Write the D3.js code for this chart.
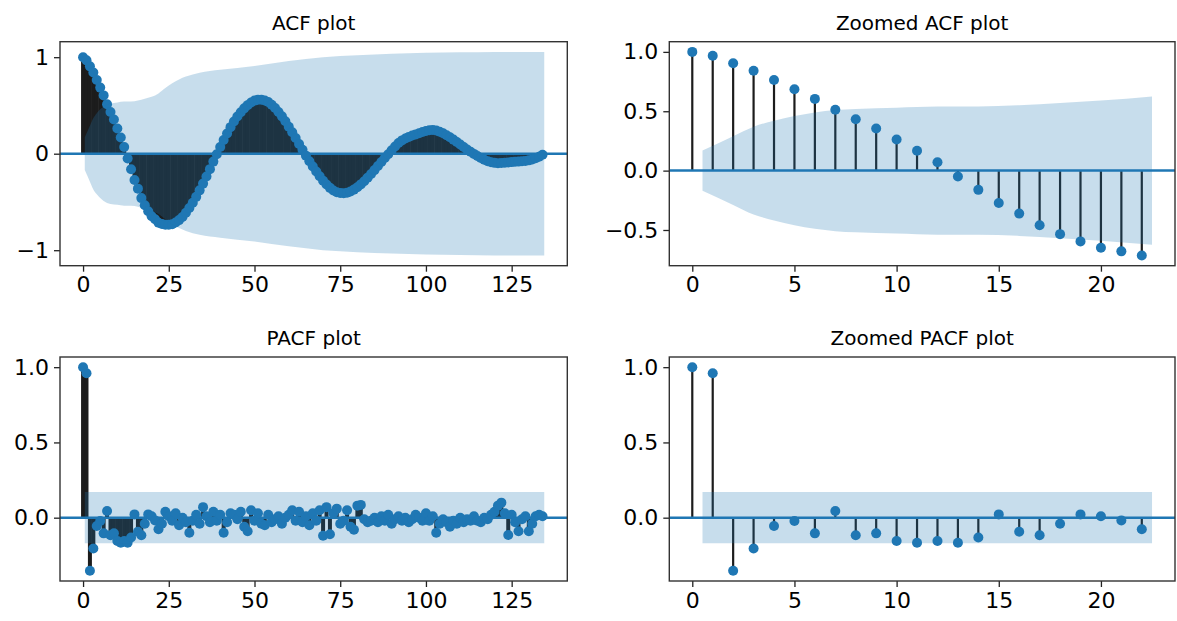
<!DOCTYPE html>
<html>
<head>
<meta charset="utf-8">
<script src="https://cdn.jsdelivr.net/npm/d3@7"></script>
<style>
  body { margin: 0; background: #fff; }
  text { font-family: "DejaVu Sans", sans-serif; fill: #000; }
</style>
</head>
<body>
<div id="chart"></div>
<script>
const Width = 1177;
const Height = 621;

// autocorrelation, lags 0..134
const acfValues = [
  1.000, 0.967, 0.905, 0.841, 0.763, 0.685, 0.604, 0.513, 0.432, 0.354,
  0.262, 0.167, 0.070, -0.050, -0.162, -0.273, -0.362, -0.460, -0.535, -0.596,
  -0.649, -0.680, -0.715, -0.728, -0.735, -0.737, -0.730, -0.712, -0.688, -0.655,
  -0.612, -0.563, -0.508, -0.447, -0.380, -0.310, -0.236, -0.160, -0.082, -0.005,
  0.070, 0.142, 0.210, 0.275, 0.333, 0.385, 0.430, 0.470, 0.503, 0.530,
  0.550, 0.560, 0.560, 0.552, 0.535, 0.508, 0.474, 0.433, 0.387, 0.336,
  0.280, 0.222, 0.162, 0.100, 0.040, -0.020, -0.078, -0.133, -0.185, -0.234,
  -0.280, -0.320, -0.354, -0.381, -0.399, -0.408, -0.410, -0.404, -0.391, -0.372,
  -0.347, -0.318, -0.285, -0.248, -0.210, -0.170, -0.128, -0.086, -0.045, -0.005,
  0.035, 0.075, 0.110, 0.138, 0.158, 0.174, 0.188, 0.200, 0.212, 0.224,
  0.235, 0.243, 0.246, 0.240, 0.228, 0.212, 0.192, 0.170, 0.146, 0.121,
  0.095, 0.069, 0.044, 0.020, -0.002, -0.024, -0.044, -0.062, -0.077, -0.088,
  -0.095, -0.098, -0.097, -0.094, -0.090, -0.087, -0.084, -0.082, -0.079, -0.075,
  -0.069, -0.060, -0.048, -0.032, -0.010
];

// partial autocorrelation, lags 0..134
const pacfValues = [
  1.000, 0.960, -0.353, -0.205, -0.055, -0.022, -0.104, 0.044, -0.117, -0.104,
  -0.155, -0.166, -0.155, -0.166, -0.132, 0.022, -0.093, -0.117, -0.040, 0.022,
  0.009, -0.018, -0.077, -0.040, 0.040, 0.010, -0.020, 0.030, -0.050, 0.000,
  -0.030, -0.100, -0.020, 0.020, -0.040, 0.070, 0.010, -0.030, 0.040, -0.020,
  0.020, -0.100, -0.030, 0.030, 0.020, -0.010, 0.040, -0.060, -0.090, 0.050,
  -0.020, 0.030, -0.040, -0.050, 0.020, -0.030, -0.010, 0.010, -0.040, 0.000,
  0.020, 0.050, -0.020, 0.040, -0.030, 0.010, -0.050, 0.030, -0.020, 0.050,
  -0.120, 0.070, -0.110, 0.030, 0.060, -0.040, -0.020, 0.050, -0.060, -0.080,
  0.080, 0.085, -0.010, -0.030, -0.020, 0.000, -0.030, 0.010, -0.020, 0.020,
  -0.040, -0.010, 0.010, -0.020, 0.000, -0.030, -0.010, 0.020, 0.000, -0.020,
  0.030, -0.020, 0.010, -0.100, -0.040, -0.010, -0.030, -0.060, -0.020, -0.040,
  0.000, -0.030, -0.010, -0.020, 0.010, -0.020, -0.030, 0.000, -0.010, 0.020,
  0.040, 0.080, 0.100, 0.030, -0.115, 0.020, -0.030, -0.090, -0.010, 0.010,
  -0.090, -0.040, 0.010, 0.020, 0.010
];

// 95% confidence band half-width of the ACF, read at some lags
const acfBandLags = [1, 2, 3, 4, 5, 6, 7, 8, 10, 12, 14, 16, 18, 20, 22, 24, 26, 28, 30, 34, 40, 50, 60, 70, 80, 90, 100, 110, 120, 134];
const acfBandHalf = [0.17, 0.29, 0.37, 0.42, 0.46, 0.49, 0.51, 0.52, 0.53, 0.54, 0.54, 0.55, 0.57, 0.59, 0.625, 0.68, 0.73, 0.77, 0.80, 0.84, 0.87, 0.91, 0.96, 1.0, 1.02, 1.035, 1.045, 1.05, 1.055, 1.055];
const pacfBandHalf = 0.17;

const fullTicks = [0, 25, 50, 75, 100, 125];
const zoomTicks = [0, 5, 10, 15, 20];
const fullMaxLag = 134;
const zoomMaxLag = 22;

const svg = d3.select("#chart").append("svg").attr("width", Width).attr("height", Height);

const panels = [
  { title: "ACF plot", left: 60, right: 567.3, top: 41.7, bottom: 265.7, values: acfValues, maxLag: fullMaxLag,
    band: "acf", xTicks: fullTicks, yTicks: [-1, 0, 1], yFmt: d3.format("d") },
  { title: "Zoomed ACF plot", left: 669.3, right: 1175, top: 41.7, bottom: 265.7, values: acfValues, maxLag: zoomMaxLag,
    band: "acf", xTicks: zoomTicks, yTicks: [-0.5, 0, 0.5, 1], yFmt: d3.format(".1f") },
  { title: "PACF plot", left: 60, right: 567.3, top: 357, bottom: 581, values: pacfValues, maxLag: fullMaxLag,
    band: "pacf", xTicks: fullTicks, yTicks: [0, 0.5, 1], yFmt: d3.format(".1f") },
  { title: "Zoomed PACF plot", left: 669.3, right: 1175, top: 357, bottom: 581, values: pacfValues, maxLag: zoomMaxLag,
    band: "pacf", xTicks: zoomTicks, yTicks: [0, 0.5, 1], yFmt: d3.format(".1f") }
];

const blue = "#1f77b4";

panels.forEach((p, i) => {
  const pts = p.values.slice(0, p.maxLag + 1).map((v, lag) => ({ lag, v }));

  // band points: first lag shifted -0.5, last lag shifted +0.5 (statsmodels style)
  let band;
  if (p.band === "acf") {
    band = acfBandLags.map((l, k) => ({ lag: l, h: acfBandHalf[k] })).filter(d => d.lag <= p.maxLag);
    if (band[band.length - 1].lag < p.maxLag) {
      const k = acfBandLags.findIndex(l => l > p.maxLag);
      const a = acfBandLags[k - 1], b = acfBandLags[k];
      const t = (p.maxLag - a) / (b - a);
      band.push({ lag: p.maxLag, h: acfBandHalf[k - 1] + t * (acfBandHalf[k] - acfBandHalf[k - 1]) });
    }
  } else {
    band = [{ lag: 1, h: pacfBandHalf }, { lag: p.maxLag, h: pacfBandHalf }];
  }
  band = band.map((d, k) => ({ x: k === 0 ? d.lag - 0.5 : (k === band.length - 1 ? d.lag + 0.5 : d.lag), h: d.h }));

  // data limits with 5% margins, like matplotlib
  const xMin = 0, xMax = p.maxLag + 0.5;
  const yMin = Math.min(d3.min(pts, d => d.v), -d3.max(band, d => d.h));
  const yMax = Math.max(d3.max(pts, d => d.v), d3.max(band, d => d.h));
  const xm = (xMax - xMin) * 0.05, ym = (yMax - yMin) * 0.05;

  const x = d3.scaleLinear().domain([xMin - xm, xMax + xm]).range([p.left, p.right]);
  const y = d3.scaleLinear().domain([yMin - ym, yMax + ym]).range([p.bottom, p.top]);

  const clipId = "clip" + i;
  svg.append("clipPath").attr("id", clipId).append("rect")
    .attr("x", p.left).attr("y", p.top).attr("width", p.right - p.left).attr("height", p.bottom - p.top);

  const g = svg.append("g").attr("clip-path", `url(#${clipId})`);

  // stems
  g.selectAll(".stem").data(pts).join("line")
    .attr("x1", d => x(d.lag)).attr("x2", d => x(d.lag))
    .attr("y1", y(0)).attr("y2", d => y(d.v))
    .attr("stroke", "#1c1c1c")
    .attr("stroke-width", p.maxLag > 50 ? 4 : 2.2);

  // zero line
  g.append("line")
    .attr("x1", p.left).attr("x2", p.right)
    .attr("y1", y(0)).attr("y2", y(0))
    .attr("stroke", blue).attr("stroke-width", 2.5);

  // markers
  g.selectAll(".dot").data(pts).join("circle")
    .attr("cx", d => x(d.lag)).attr("cy", d => y(d.v))
    .attr("r", 5).attr("fill", blue);

  // confidence band on top
  const area = d3.area()
    .x(d => x(d.x))
    .y0(d => y(-d.h))
    .y1(d => y(d.h))
    .curve(p.band === "acf" ? d3.curveMonotoneX : d3.curveLinear);
  g.append("path").attr("d", area(band)).attr("fill", blue).attr("fill-opacity", 0.25);

  // axes
  const xAxis = d3.axisBottom(x).tickValues(p.xTicks).tickSize(6).tickPadding(5).tickFormat(d3.format("d"));
  const yAxis = d3.axisLeft(y).tickValues(p.yTicks).tickSize(6).tickPadding(5)
    .tickFormat(d => p.yFmt(d).replace("-", "\u2212"));

  const ax = svg.append("g").attr("transform", `translate(0,${p.bottom})`).call(xAxis);
  const ay = svg.append("g").attr("transform", `translate(${p.left},0)`).call(yAxis);
  [ax, ay].forEach(a => {
    a.select(".domain").remove();
    a.selectAll(".tick line").attr("stroke", "#222").attr("stroke-width", 1.3);
    a.selectAll(".tick text").style("font-size", "22px").attr("fill", "#111");
  });

  // frame
  svg.append("rect")
    .attr("x", p.left).attr("y", p.top)
    .attr("width", p.right - p.left).attr("height", p.bottom - p.top)
    .attr("fill", "none").attr("stroke", "#333").attr("stroke-width", 1.4);

  svg.append("text")
    .attr("x", (p.left + p.right) / 2).attr("y", p.top - 12)
    .attr("text-anchor", "middle")
    .style("font-size", "20px")
    .attr("fill", "#111")
    .text(p.title);
});
</script>
</body>
</html>
